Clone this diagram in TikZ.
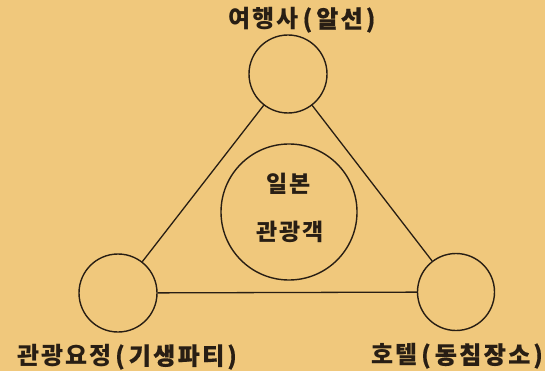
\documentclass[tikz,border=0pt]{standalone}
\usepackage{fontspec}
\newfontfamily\kr{Noto Sans CJK KR}[LetterSpace=8]
\newfontfamily\krm{Noto Sans CJK KR}[LetterSpace=10,FakeBold=0.5]
\definecolor{paper}{RGB}{240,200,124}
\definecolor{ink}{RGB}{40,30,20}
\newcommand{\paren}[1]{{\krm\hspace{4pt}(\hspace{4pt}#1\hspace{3pt})}}
\begin{document}
\begin{tikzpicture}[x=1pt,y=-1pt,
  circ/.style={circle,draw=ink,line width=1.4pt,inner sep=0pt},
  lbl/.style={text=ink,font=\kr\bfseries\fontsize{24}{26}\selectfont,inner sep=0pt},
  conn/.style={draw=ink,line width=1.3pt}]
\fill[paper] (0,0) rectangle (545,371);
\useasboundingbox (0,0) rectangle (545,371);
\node[circ,minimum size=78pt] (top) at (288,74) {};
\node[circ,minimum size=78pt] (left) at (118,293) {};
\node[circ,minimum size=77pt] (right) at (456,292) {};
\node[circ,minimum size=136pt] (mid) at (289,212) {};
\draw[conn] (top) -- (left);
\draw[conn] (top) -- (right);
\draw[conn] (left) -- (right);
\node[lbl] (ltop) at (302,20) {여행사\paren{알선}};
\node[lbl] (lleft) at (127,357) {관광요정\paren{기생파티}};
\node[lbl] (lright) at (457,356) {호텔\paren{동침장소}};
\node[lbl,font=\kr\bfseries\fontsize{23}{26}\selectfont] (m1) at (289,184) {일본};
\node[lbl,font=\kr\bfseries\fontsize{23}{26}\selectfont] (m2) at (290,232) {관광객};
\end{tikzpicture}
\end{document}
